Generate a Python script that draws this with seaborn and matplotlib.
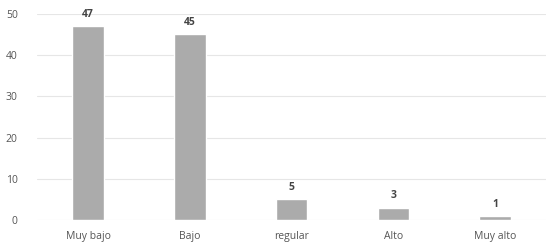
import matplotlib
matplotlib.use("Agg")
import matplotlib.pyplot as plt
import seaborn as sns
import pandas as pd

# data
categories = ["Muy bajo", "Bajo", "regular", "Alto", "Muy alto"]
values = [47, 45, 5, 3, 1]
y_ticks = [0, 10, 20, 30, 40, 50]

df = pd.DataFrame({"nivel": categories, "valor": values})

sns.set_theme(style="white")
plt.rcParams["font.family"] = ["Open Sans", "DejaVu Sans"]

fig = plt.figure(figsize=(5.46, 2.48), dpi=100)
ax = fig.add_axes([0.068, 0.113, 0.932, 0.831])

sns.barplot(data=df, x="nivel", y="valor", color="#ababab",
            width=0.31, saturation=1, ax=ax)

for i, v in enumerate(values):
    ax.text(i, v + 1.5, str(v), ha="center", va="bottom",
            fontsize=7.5, fontweight="bold", color="#444444")

ax.set_ylim(0, 50)
ax.set_yticks(y_ticks)
ax.yaxis.grid(True, color="#e6e6e6", linewidth=0.8)
ax.set_axisbelow(True)
ax.set_xlabel("")
ax.set_ylabel("")
sns.despine(ax=ax, left=True, bottom=True)
ax.tick_params(axis="both", length=0, labelsize=7.5, labelcolor="#555555")
ax.tick_params(axis="y", pad=14)
ax.tick_params(axis="x", pad=8)

fig.savefig("out.png", dpi=100)
